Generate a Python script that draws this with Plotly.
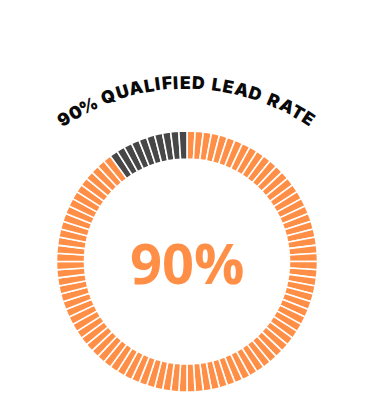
import math
import plotly.graph_objects as go

# ---- data ----
rate_label = "90%"
title_text = "90% QUALIFIED LEAD RATE"
filled_segments = 90
empty_segments = 10
orange = "#FF8F47"
dark = "#474747"

segment_values = [1] * (filled_segments + empty_segments)
segment_colors = [orange] * filled_segments + [dark] * empty_segments

W, H = 375, 406

# ring geometry (pixels)
ring_cx, ring_cy, ring_r = 187, 261.5, 130.5
hole = 0.785

fig = go.Figure(go.Pie(
    values=segment_values,
    marker=dict(colors=segment_colors, line=dict(color="white", width=1.6)),
    sort=False, direction="clockwise", rotation=0,
    hole=hole, textinfo="none", hoverinfo="skip", showlegend=False,
    domain=dict(x=[(ring_cx - ring_r) / W, (ring_cx + ring_r) / W],
                y=[1 - (ring_cy + ring_r) / H, 1 - (ring_cy - ring_r) / H]),
))

# curved title (approximate advance widths, em)
widths = {"9": .64, "0": .64, "%": .92, " ": .26, "Q": .80, "U": .75,
          "A": .76, "L": .58, "I": .31, "F": .59, "E": .61, "D": .77,
          "R": .67, "T": .64}
fs = 17.5
arc_cx, arc_cy, arc_r = 186.5, 303, 221
span = 259.0  # first-to-last character centre distance along arc
ws = [widths.get(c, .65) * fs for c in title_text]
base = sum(ws) - (ws[0] + ws[-1]) / 2
spacing = (span - base) / (len(title_text) - 1)
pos = -span / 2 - ws[0] / 2
annotations = []
for c, w in zip(title_text, ws):
    mid = pos + w / 2
    pos += w + spacing
    if c == " ":
        continue
    ang = mid / arc_r  # radians, clockwise from top
    px = arc_cx + arc_r * math.sin(ang)
    py = arc_cy - arc_r * math.cos(ang)
    annotations.append(dict(
        x=px / W, y=1 - py / H, xref="paper", yref="paper",
        text=c, showarrow=False, textangle=math.degrees(ang),
        xanchor="center", yanchor="middle",
        font=dict(family="Inter", size=fs, color="#0a0a0a", weight=900),
    ))

annotations.append(dict(
    x=ring_cx / W, y=1 - 262 / H, xref="paper", yref="paper",
    text="<b>" + rate_label + "</b>", showarrow=False,
    xanchor="center", yanchor="middle",
    font=dict(family="Open Sans", size=56, color=orange),
))

fig.update_layout(
    width=W, height=H, margin=dict(l=0, r=0, t=0, b=0),
    paper_bgcolor="white", plot_bgcolor="white",
    annotations=annotations,
)
fig.write_html("out.html", config={"displayModeBar": False},
               post_script="document.body.style.margin='0';")
